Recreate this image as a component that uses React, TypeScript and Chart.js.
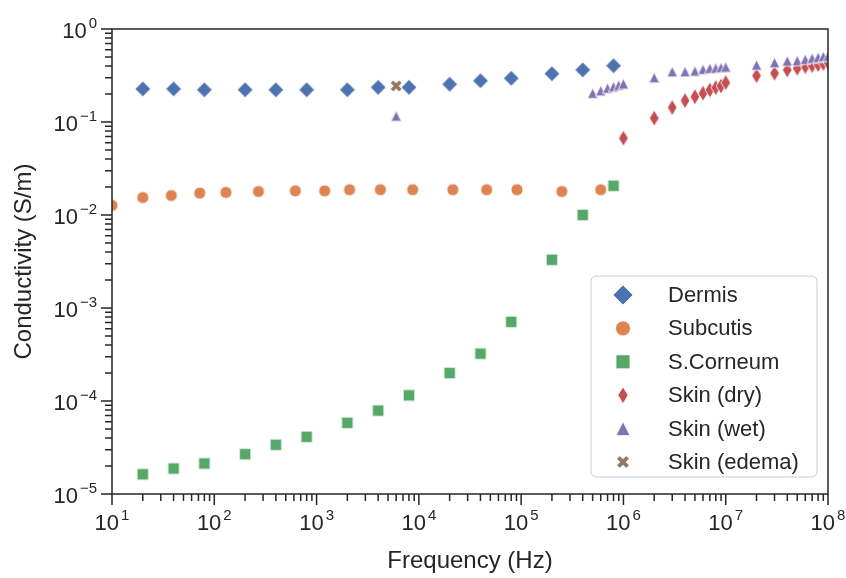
import React, { useEffect, useRef } from 'react';
import { Chart, registerables } from 'chart.js';

Chart.register(...registerables);

// ---------------- data ----------------
const dermisFreq = [20, 40, 80, 200, 400, 800, 2000, 4000, 8000, 20000, 40000, 80000, 200000, 400000, 800000];
const dermisCond = [0.227, 0.227, 0.222, 0.222, 0.222, 0.222, 0.222, 0.236, 0.236, 0.255, 0.278, 0.295, 0.331, 0.363, 0.403];

const subcutisFreq = [10, 20, 38, 72, 130, 270, 620, 1200, 2100, 4200, 8700, 21500, 46000, 91000, 250000, 600000];
const subcutisCond = [0.0127, 0.0154, 0.0162, 0.0172, 0.0175, 0.0179, 0.0182, 0.0182, 0.0187, 0.0187, 0.0187, 0.0187, 0.0187, 0.0187, 0.0179, 0.0187];

const corneumFreq = [20, 40, 80, 200, 400, 800, 2000, 4000, 8000, 20000, 40000, 80000, 200000, 400000, 800000];
const corneumCond = [1.63e-5, 1.88e-5, 2.13e-5, 2.68e-5, 3.38e-5, 4.12e-5, 5.82e-5, 7.89e-5, 1.15e-4, 2.0e-4, 3.23e-4, 7.1e-4, 3.3e-3, 1.0e-2, 2.06e-2];

const dryFreq = [1e6, 2e6, 3e6, 4e6, 5e6, 6e6, 7e6, 8e6, 9e6, 1e7, 2e7, 3e7, 4e7, 5e7, 6e7, 7e7, 8e7, 9e7, 1e8];
const dryCond = [0.067, 0.11, 0.143, 0.17, 0.187, 0.204, 0.221, 0.234, 0.244, 0.265, 0.315, 0.334, 0.363, 0.378, 0.394, 0.405, 0.415, 0.425, 0.435];

const wetFreq = [6000, 5e5, 6e5, 7e5, 8e5, 9e5, 1e6, 2e6, 3e6, 4e6, 5e6, 6e6, 7e6, 8e6, 9e6, 1e7, 2e7, 3e7, 4e7, 5e7, 6e7, 7e7, 8e7, 9e7, 1e8];
const wetCond = [0.116, 0.204, 0.217, 0.231, 0.24, 0.249, 0.257, 0.3, 0.348, 0.348, 0.353, 0.369, 0.378, 0.38, 0.385, 0.39, 0.41, 0.435, 0.453, 0.457, 0.472, 0.485, 0.496, 0.505, 0.51];

const edemaFreq = [6000];
const edemaCond = [0.244];

const seriesLabels = ['Dermis', 'Subcutis', 'S.Corneum', 'Skin (dry)', 'Skin (wet)', 'Skin (edema)'];
const seriesFreqs = [dermisFreq, subcutisFreq, corneumFreq, dryFreq, wetFreq, edemaFreq];
const seriesConds = [dermisCond, subcutisCond, corneumCond, dryCond, wetCond, edemaCond];
const seriesColors = ['#4C72B0', '#DD8452', '#55A868', '#C44E52', '#8172B3', '#937860'];
const seriesMarkers = ['diamond', 'circle', 'square', 'thin_diamond', 'triangle', 'x'];
const markerSizes = [15.5, 12, 11.5, 16, 10.5, 12];
const legendMarkerSizes = [20, 15, 14, 17, 14, 13];

const xTickExps = [1, 2, 3, 4, 5, 6, 7, 8];
const yTickExps = [0, -1, -2, -3, -4, -5];
const xTitle = 'Frequency (Hz)';
const yTitle = 'Conductivity (S/m)';

// ---------------- style ----------------
const FONT = '"Liberation Sans", Arial, Helvetica, sans-serif';
const TEXT = '#262626';
const AXIS = '#262626';
const MAJOR = 11;
const MINOR = 7;

function markerPath(ctx: CanvasRenderingContext2D, kind: string, cx: number, cy: number, s: number) {
  ctx.beginPath();
  const h = s / 2;
  switch (kind) {
    case 'diamond':
      ctx.moveTo(cx, cy - h); ctx.lineTo(cx + h, cy); ctx.lineTo(cx, cy + h); ctx.lineTo(cx - h, cy); ctx.closePath();
      break;
    case 'circle':
      ctx.arc(cx, cy, h, 0, Math.PI * 2);
      break;
    case 'square':
      ctx.rect(cx - h, cy - h, s, s);
      break;
    case 'thin_diamond': {
      const w = s * 0.3;
      ctx.moveTo(cx, cy - h); ctx.lineTo(cx + w, cy); ctx.lineTo(cx, cy + h); ctx.lineTo(cx - w, cy); ctx.closePath();
      break;
    }
    case 'triangle':
      ctx.moveTo(cx, cy - h); ctx.lineTo(cx + h, cy + h); ctx.lineTo(cx - h, cy + h); ctx.closePath();
      break;
    case 'x': {
      const L = s * 0.52, t = s * 0.17;
      const pts = [[t, t], [t, L], [-t, L], [-t, t], [-L, t], [-L, -t], [-t, -t], [-t, -L], [t, -L], [t, -t], [L, -t], [L, t]];
      const c = Math.SQRT1_2;
      pts.forEach(([px, py], i) => {
        const rx = (px - py) * c, ry = (px + py) * c;
        if (i) ctx.lineTo(cx + rx, cy + ry); else ctx.moveTo(cx + rx, cy + ry);
      });
      ctx.closePath();
      break;
    }
  }
}

function drawMarker(ctx: CanvasRenderingContext2D, kind: string, cx: number, cy: number, s: number, color: string) {
  markerPath(ctx, kind, cx, cy, s);
  ctx.fillStyle = color;
  ctx.fill();
  ctx.lineWidth = 0.8;
  ctx.strokeStyle = '#ffffff';
  ctx.stroke();
}

function makeMarkerCanvas(kind: string, s: number, color: string) {
  const dim = Math.ceil(s + 4);
  const c = document.createElement('canvas');
  c.width = dim; c.height = dim;
  const ctx = c.getContext('2d') as CanvasRenderingContext2D;
  drawMarker(ctx, kind, dim / 2, dim / 2, s, color);
  return c;
}

function expText(e: number) {
  return String(e).replace('-', '\u2212');
}

const decoPlugin = {
  id: 'deco',
  afterDatasetsDraw(chart: any) {
    const { ctx, chartArea: a } = chart;
    const xs = chart.scales.x, ys = chart.scales.y;
    ctx.save();
    ctx.strokeStyle = AXIS;
    ctx.lineWidth = 1.5;
    ctx.beginPath();
    xTickExps.forEach((e, i) => {
      const v = Math.pow(10, e);
      const px = xs.getPixelForValue(v);
      ctx.moveTo(px, a.bottom); ctx.lineTo(px, a.bottom + MAJOR);
      if (i < xTickExps.length - 1) {
        for (let m = 2; m <= 9; m++) {
          const p = xs.getPixelForValue(m * v);
          ctx.moveTo(p, a.bottom); ctx.lineTo(p, a.bottom + MINOR);
        }
      }
    });
    yTickExps.forEach((e, i) => {
      const v = Math.pow(10, e);
      const py = ys.getPixelForValue(v);
      ctx.moveTo(a.left, py); ctx.lineTo(a.left - MAJOR, py);
      if (i > 0) {
        for (let m = 2; m <= 9; m++) {
          const p = ys.getPixelForValue(m * v);
          ctx.moveTo(a.left, p); ctx.lineTo(a.left - MINOR, p);
        }
      }
    });
    ctx.stroke();
    ctx.strokeRect(a.left, a.top, a.right - a.left, a.bottom - a.top);
    ctx.restore();
  },
  afterDraw(chart: any) {
    const { ctx, chartArea: a } = chart;
    const xs = chart.scales.x, ys = chart.scales.y;
    const baseFont = `22px ${FONT}`;
    const expFont = `15px ${FONT}`;
    ctx.save();
    ctx.fillStyle = TEXT;
    ctx.textBaseline = 'alphabetic';
    ctx.textAlign = 'left';

    // y tick labels
    yTickExps.forEach((e) => {
      const py = ys.getPixelForValue(Math.pow(10, e));
      const es = expText(e);
      ctx.font = expFont; const we = ctx.measureText(es).width;
      ctx.font = baseFont; const wb = ctx.measureText('10').width;
      const right = a.left - MAJOR - 4;
      const baseline = py + 9;
      ctx.fillText('10', right - we - 2 - wb, baseline);
      ctx.font = expFont;
      ctx.fillText(es, right - we, baseline - 10);
    });

    // x tick labels
    xTickExps.forEach((e) => {
      const px = xs.getPixelForValue(Math.pow(10, e));
      const es = expText(e);
      ctx.font = expFont; const we = ctx.measureText(es).width;
      ctx.font = baseFont; const wb = ctx.measureText('10').width;
      const total = wb + 2 + we;
      const start = px - total / 2;
      const baseline = a.bottom + MAJOR + 4 + 21;
      ctx.fillText('10', start, baseline);
      ctx.font = expFont;
      ctx.fillText(es, start + wb + 2, baseline - 10);
    });

    // axis titles
    ctx.font = `24px ${FONT}`;
    ctx.textAlign = 'center';
    ctx.fillText(xTitle, (a.left + a.right) / 2, 568);
    ctx.save();
    ctx.translate(31, (a.top + a.bottom) / 2);
    ctx.rotate(-Math.PI / 2);
    ctx.fillText(yTitle, 0, 0);
    ctx.restore();

    // legend
    const lx0 = a.left + 479, lx1 = a.right - 11;
    const ly0 = a.top + 247, ly1 = a.bottom - 17;
    const r = 5;
    ctx.beginPath();
    ctx.moveTo(lx0 + r, ly0);
    ctx.lineTo(lx1 - r, ly0); ctx.arcTo(lx1, ly0, lx1, ly0 + r, r);
    ctx.lineTo(lx1, ly1 - r); ctx.arcTo(lx1, ly1, lx1 - r, ly1, r);
    ctx.lineTo(lx0 + r, ly1); ctx.arcTo(lx0, ly1, lx0, ly1 - r, r);
    ctx.lineTo(lx0, ly0 + r); ctx.arcTo(lx0, ly0, lx0 + r, ly0, r);
    ctx.closePath();
    ctx.fillStyle = 'rgba(255,255,255,0.8)';
    ctx.fill();
    ctx.strokeStyle = '#cccccc';
    ctx.lineWidth = 1;
    ctx.stroke();

    const step = 33.4;
    const firstY = ly0 + 19;
    seriesLabels.forEach((lab, i) => {
      const cy = firstY + i * step;
      drawMarker(ctx, seriesMarkers[i], lx0 + 32, cy, legendMarkerSizes[i], seriesColors[i]);
      ctx.fillStyle = TEXT;
      ctx.font = `22px ${FONT}`;
      ctx.textAlign = 'left';
      ctx.textBaseline = 'middle';
      ctx.fillText(lab, lx0 + 77, cy + 1);
    });
    ctx.restore();
  },
};

export default function App() {
  const canvasRef = useRef<HTMLCanvasElement | null>(null);

  useEffect(() => {
    const canvas = canvasRef.current;
    if (!canvas) return;
    const datasets = seriesLabels.map((label, i) => ({
      label,
      data: seriesFreqs[i].map((f, j) => ({ x: f, y: seriesConds[i][j] })),
      pointStyle: makeMarkerCanvas(seriesMarkers[i], markerSizes[i], seriesColors[i]),
      pointRadius: 6,
      backgroundColor: seriesColors[i],
      borderColor: '#ffffff',
      showLine: false,
      clip: 0,
      order: seriesLabels.length - 1 - i,
    }));
    const chart = new Chart(canvas, {
      type: 'scatter',
      data: { datasets: datasets as any },
      options: {
        responsive: false,
        animation: false,
        events: [],
        layout: { padding: { left: 112, right: 18, top: 29, bottom: 84 } },
        scales: {
          x: { type: 'logarithmic', min: 10, max: 1e8, display: false },
          y: { type: 'logarithmic', min: 1e-5, max: 1, display: false },
        },
        plugins: { legend: { display: false }, tooltip: { enabled: false } },
      },
      plugins: [decoPlugin as any],
    });
    return () => chart.destroy();
  }, []);

  return (
    <div style={{ position: 'absolute', left: 0, top: 0, width: 846, height: 578, background: '#ffffff' }}>
      <canvas ref={canvasRef} width={846} height={578} style={{ width: 846, height: 578, display: 'block' }} />
    </div>
  );
}
